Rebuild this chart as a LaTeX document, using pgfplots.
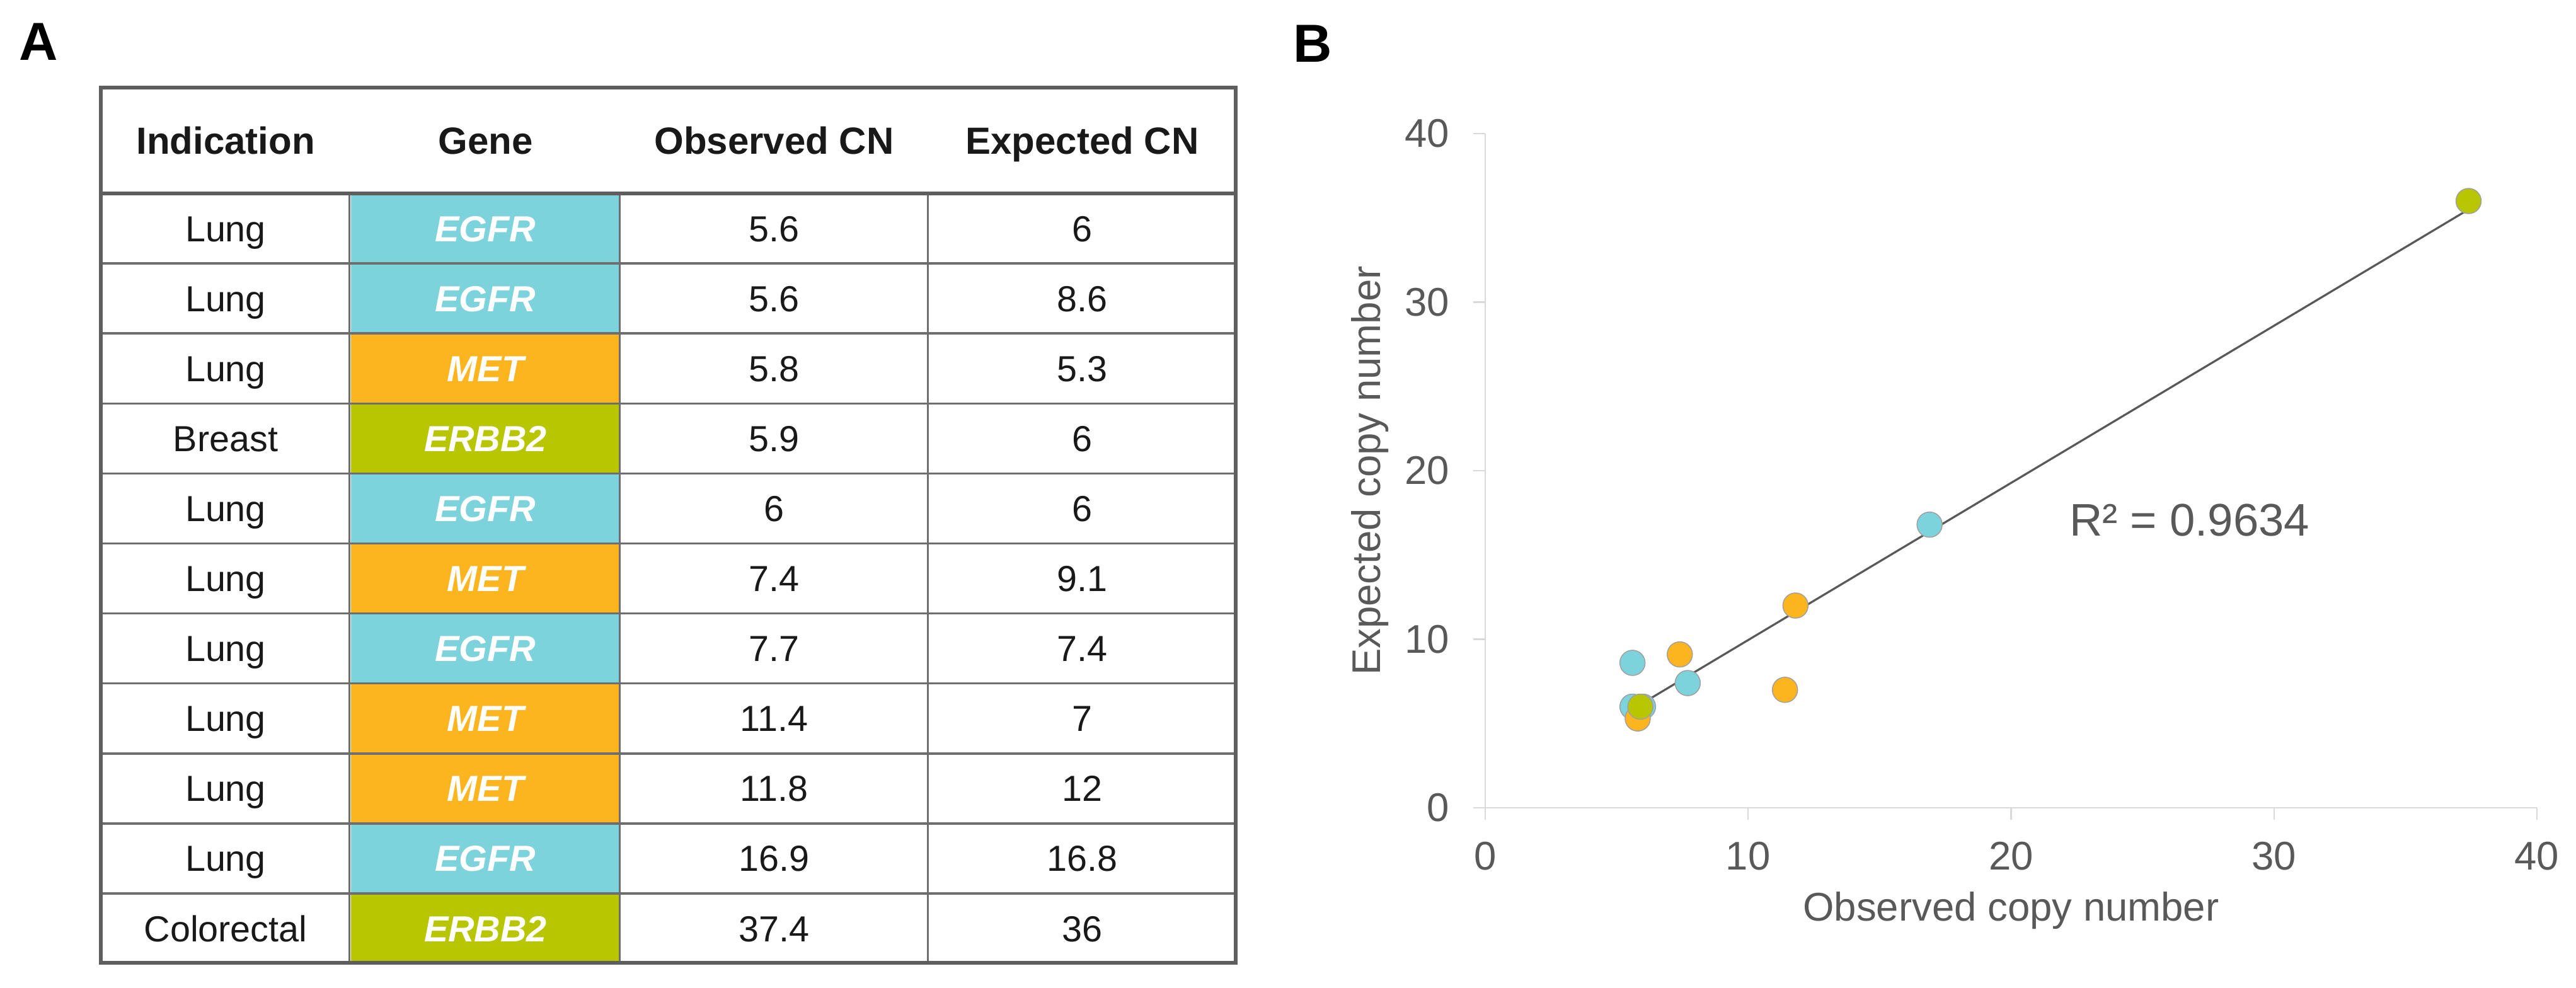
\documentclass[border=0pt]{standalone}
\usepackage{fontspec}
\setmainfont{Liberation Sans}
\usepackage{pgfplots}
\pgfplotsset{compat=1.18}
\definecolor{cEGFR}{HTML}{7DD3DC}
\definecolor{cMET}{HTML}{FDB51F}
\definecolor{cERBB2}{HTML}{B7C600}
\definecolor{tline}{HTML}{5E5E5E}
\definecolor{tinner}{HTML}{6E6E6E}
\definecolor{txtgray}{HTML}{595959}
\definecolor{axgray}{HTML}{D9D9D9}
\definecolor{mkline}{HTML}{A0A0A0}
\newcommand\bodyfont{\fontsize{11.5pt}{13pt}\selectfont}
\newcommand\headfont{\fontsize{12pt}{14pt}\selectfont\bfseries}
\begin{document}
\begin{tikzpicture}
\useasboundingbox (0,0) rectangle (817.6pt,-313.6pt);
\begin{scope}[x=0.2pt,y=-0.2pt]
% panel letters
\node[anchor=base west, inner sep=0pt, font=\fontsize{17pt}{20pt}\selectfont\bfseries] at (29,95) {A};
\node[anchor=base west, inner sep=0pt, font=\fontsize{17pt}{20pt}\selectfont\bfseries] at (2052,98) {B};
% table rows
\foreach \i/\ind/\gene/\col/\obs/\expc in {
  1/Lung/EGFR/cEGFR/5.6/6,
  2/Lung/EGFR/cEGFR/5.6/8.6,
  3/Lung/MET/cMET/5.8/5.3,
  4/Breast/ERBB2/cERBB2/5.9/6,
  5/Lung/EGFR/cEGFR/6/6,
  6/Lung/MET/cMET/7.4/9.1,
  7/Lung/EGFR/cEGFR/7.7/7.4,
  8/Lung/MET/cMET/11.4/7,
  9/Lung/MET/cMET/11.8/12,
  10/Lung/EGFR/cEGFR/16.9/16.8,
  11/Colorectal/ERBB2/cERBB2/37.4/36}{
  \pgfmathsetmacro\yt{307+(\i-1)*111.1}
  \pgfmathsetmacro\yb{\yt+111.1}
  \pgfmathsetmacro\ybase{\yt+55.55+20.5}
  \fill[\col] (557,\yt) rectangle (984,\yb);
  \node[anchor=base, inner sep=0pt, font=\bodyfont, text=black!90] at (358,\ybase) {\ind};
  \node[anchor=base, inner sep=0pt, font=\bodyfont\bfseries\itshape, text=white] at (770.5,\ybase) {\gene};
  \node[anchor=base, inner sep=0pt, font=\bodyfont, text=black!90] at (1228.5,\ybase) {\obs};
  \node[anchor=base, inner sep=0pt, font=\bodyfont, text=black!90] at (1717.5,\ybase) {\expc};
}
% inner row lines
\foreach \i in {1,...,10}{
  \pgfmathsetmacro\yl{307+\i*111.1}
  \draw[tinner, line width=0.7pt] (160,\yl) -- (1961,\yl);
}
% column lines
\foreach \xc in {555,984,1473}{
  \draw[tinner, line width=0.6pt] (\xc,307) -- (\xc,1528);
}
% header line and border
\draw[tline, line width=1.3pt] (160,307) -- (1961,307);
\draw[tline, line width=1.3pt] (160,139) rectangle (1961,1528);
% header
\node[anchor=base, inner sep=0pt, font=\headfont, text=black!90] at (358,244) {Indication};
\node[anchor=base, inner sep=0pt, font=\headfont, text=black!90] at (770.5,244) {Gene};
\node[anchor=base, inner sep=0pt, font=\headfont, text=black!90] at (1228.5,244) {Observed CN};
\node[anchor=base, inner sep=0pt, font=\headfont, text=black!90] at (1717.5,244) {Expected CN};
\end{scope}
\begin{axis}[
  at={(471.4pt,-256.4pt)}, anchor=south west,
  scale only axis, width=333.8pt, height=214pt,
  xmin=0, xmax=40, ymin=0, ymax=40,
  xtick={0,10,20,30,40}, ytick={0,10,20,30,40},
  axis lines*=left,
  axis line style={axgray, line width=0.45pt},
  tick style={axgray, line width=0.45pt},
  tick align=outside, major tick length=3.8pt,
  /pgf/number format/assume math mode=true,
  ticklabel style={text=txtgray, font=\fontsize{12.7pt}{14pt}\selectfont, inner sep=0pt},
  yticklabel style={xshift=-7.4pt},
  xticklabel style={yshift=-6.8pt},
  xlabel={Observed copy number}, ylabel={Expected copy number},
  label style={text=txtgray, font=\fontsize{12.7pt}{14pt}\selectfont, inner sep=0pt},
  xlabel style={at={(axis description cs:0.5,-0.1682)}, anchor=base},
  ylabel style={at={(axis description cs:-0.1,0.5)}, anchor=base},
  clip=false,
]
\addplot[only marks, mark=*, mark size=4pt, mark options={fill=cEGFR, draw=mkline, line width=0.3pt}]
  coordinates {(5.6,6) (5.6,8.6) (6,6) (7.7,7.4) (16.9,16.8)};
\addplot[only marks, mark=*, mark size=4pt, mark options={fill=cMET, draw=mkline, line width=0.3pt}]
  coordinates {(5.8,5.3) (7.4,9.1) (11.4,7) (11.8,12)};
\addplot[only marks, mark=*, mark size=4pt, mark options={fill=cERBB2, draw=mkline, line width=0.3pt}]
  coordinates {(5.9,6) (37.4,36)};
\addplot[txtgray, line width=0.65pt] coordinates {(5.6,5.85) (37.4,35.5)};
\node[anchor=base west, inner sep=0pt, text=txtgray, font=\fontsize{14.5pt}{16pt}\selectfont] at (axis cs:22.2,16.15) {R² = 0.9634};
\end{axis}
\end{tikzpicture}
\end{document}
